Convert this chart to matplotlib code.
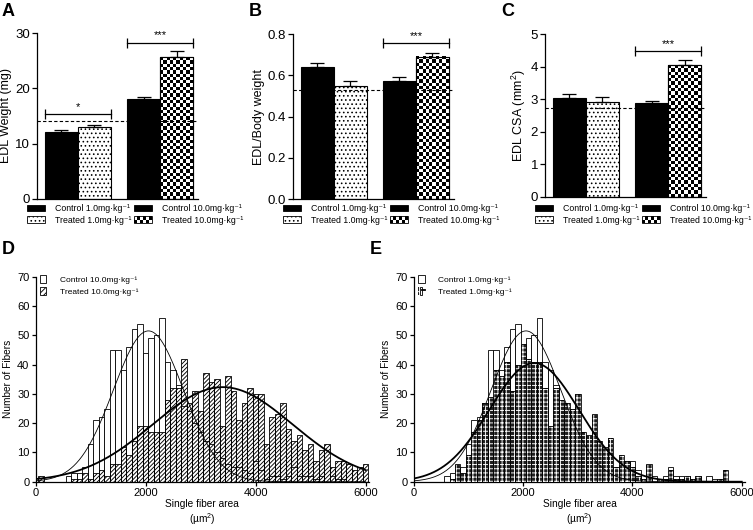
import numpy as np
import matplotlib
matplotlib.use('Agg')
import matplotlib.pyplot as plt
from matplotlib.patches import Patch, Rectangle
from matplotlib.lines import Line2D
from matplotlib.legend_handler import HandlerBase, HandlerTuple

plt.rcParams['font.family'] = ['Liberation Sans', 'DejaVu Sans']
plt.rcParams['mathtext.fontset'] = 'custom'
plt.rcParams['mathtext.rm'] = 'Liberation Sans'
plt.rcParams['mathtext.it'] = 'Liberation Sans:italic'
plt.rcParams['mathtext.bf'] = 'Liberation Sans:bold'
plt.rcParams['hatch.linewidth'] = 0.65
plt.rcParams['axes.linewidth'] = 0.9

# --- panels A-C: group means and SEM
group_labels = ['Control 1.0mg·kg⁻¹', 'Treated 1.0mg·kg⁻¹',
                'Control 10.0mg·kg⁻¹', 'Treated 10.0mg·kg⁻¹']
edl_weight = [12.05, 12.95, 18.0, 25.65]
edl_weight_sem = [0.4, 0.4, 0.5, 1.1]
edl_body = [0.643, 0.551, 0.575, 0.691]
edl_body_sem = [0.019, 0.024, 0.019, 0.02]
edl_csa = [3.03, 2.93, 2.87, 4.05]
edl_csa_sem = [0.13, 0.14, 0.09, 0.16]
reference_levels = [14.05, 0.53, 2.74]
# (first group, second group, height, stars)
sig_a = [(0, 1, 15.3, '*'), (2, 3, 28.3, '***')]
sig_b = [(2, 3, 0.756, '***')]
sig_c = [(2, 3, 4.49, '***')]

# --- panels D-E: fibre area histograms (bins of 100 um2, centred on bin value)
bin_centers = np.arange(100, 6100, 100)
control_10 = [0, 0, 0, 0, 0, 2, 3, 3, 5, 13,
              21, 22, 25, 45, 45, 38, 46, 52, 54, 44,
              49, 50, 56, 41, 38, 33, 26, 24, 20, 17,
              14, 13, 10, 8, 6, 5, 5, 4, 3, 7,
              4, 1, 2, 2, 1, 2, 5, 2, 2, 2,
              1, 2, 0, 2, 1, 1, 0, 0, 0, 0]
treated_10 = [2, 0, 0, 0, 0, 0, 1, 1, 3, 1,
              3, 4, 2, 6, 6, 12, 9, 14, 19, 19,
              17, 17, 17, 28, 32, 32, 42, 27, 31, 24,
              37, 34, 35, 19, 36, 31, 21, 27, 32, 30,
              30, 13, 22, 23, 27, 18, 14, 16, 11, 13,
              7, 11, 13, 5, 7, 7, 6, 4, 5, 6]
control_1 = [0, 0, 0, 0, 0, 2, 3, 3, 5, 13,
             21, 22, 25, 45, 45, 38, 46, 52, 54, 44,
             49, 50, 56, 41, 38, 33, 26, 24, 20, 17,
             14, 13, 10, 8, 6, 5, 5, 4, 3, 7,
             4, 1, 2, 2, 1, 2, 5, 2, 2, 2,
             1, 2, 0, 2, 1, 1, 0, 0, 0, 0]
treated_1 = [0, 0, 0, 0, 0, 0, 1, 6, 3, 9,
             17, 21, 27, 29, 38, 36, 41, 31, 40, 47,
             42, 41, 41, 32, 19, 32, 28, 27, 25, 30,
             17, 16, 23, 14, 12, 15, 5, 9, 7, 5,
             2, 1, 6, 0, 1, 1, 4, 1, 1, 2,
             1, 2, 0, 0, 0, 1, 4, 0, 0, 0]
# gaussian fits (peak, mean, sd)
fit_control = (51.5, 2050, 640)
fit_treated_10 = (32.3, 3400, 1270)
fit_treated_1 = (40.5, 2200, 820)

fig = plt.figure(figsize=(7.53, 5.30), dpi=100)
positions = [0, 1, 2.5, 3.5]


class CheckerHandler(HandlerBase):
    def create_artists(self, legend, orig_handle, xdescent, ydescent,
                       width, height, fontsize, trans):
        arts = []
        nx, ny = 6, 2
        cw, ch = width / nx, height / ny
        for i in range(nx):
            for j in range(ny):
                if (i + j) % 2 == 0:
                    arts.append(Rectangle((-xdescent + i * cw, -ydescent + j * ch), cw, ch,
                                          facecolor='black', edgecolor='none', transform=trans))
        arts.append(Rectangle((-xdescent, -ydescent), width, height, facecolor='none',
                              edgecolor='black', lw=0.6, transform=trans))
        return arts


def add_checker(ax, bar, cell_px=3.3):
    x0, y0 = bar.get_x(), bar.get_y()
    x1, y1 = x0 + bar.get_width(), y0 + bar.get_height()
    (px0, py0), (px1, py1) = ax.transData.transform([(x0, y0), (x1, y1)])
    nx = max(1, int(round((px1 - px0) / cell_px)))
    ny = max(1, int(round((py1 - py0) / cell_px)))
    board = np.indices((ny, nx)).sum(axis=0) % 2
    ax.imshow(board, cmap='gray', vmin=0, vmax=1, extent=(x0, x1, y0, y1),
              aspect='auto', interpolation='nearest', zorder=2)


def bar_panel(rect, values, sems, ref, ylim, yticks, yticklabels, ylabel, sigs, letter, letter_x):
    ax = fig.add_axes(rect)
    ax.set_xlim(-0.74, 4.15)
    ax.set_ylim(*ylim)
    bars = ax.bar(positions, values, width=1, color=['black', 'white', 'black', 'white'],
                  edgecolor='black', lw=0.8, zorder=2)
    bars[1].set_hatch('....')
    add_checker(ax, bars[3])
    ax.bar(positions[3], values[3], width=1, fill=False, edgecolor='black', lw=0.8, zorder=3)
    ax.set_xlim(-0.74, 4.15)
    ax.set_ylim(*ylim)
    ax.errorbar(positions, values, yerr=[np.zeros(len(sems)), sems], fmt='none',
                ecolor='black', elinewidth=0.9, capsize=5, capthick=0.9, zorder=3)
    ax.axhline(ref, color='black', lw=0.8, ls=(0, (3, 2)), zorder=4)
    for a, b, h, stars in sigs:
        xa, xb = positions[a] - 0.5, positions[b] + 0.5
        ax.plot([xa, xb], [h, h], color='black', lw=0.9, marker='|', markersize=7,
                mew=0.9, zorder=4, clip_on=False)
        ax.annotate(stars, ((xa + xb) / 2, h), xytext=(0, 1.5), textcoords='offset points',
                    ha='center', va='bottom', fontsize=8)
    ax.spines[['top', 'right']].set_visible(False)
    ax.set_xticks([])
    ax.set_yticks(yticks)
    ax.set_yticklabels(yticklabels)
    ax.tick_params(axis='y', labelsize=9.5, length=3.5, width=0.9, pad=1.5)
    ax.set_ylabel(ylabel, fontsize=9, labelpad=2)

    checker = Patch(facecolor='white', edgecolor='black')
    handles = [Patch(facecolor='black', edgecolor='black', lw=0.6),
               Patch(facecolor='white', edgecolor='black', hatch='....', lw=0.6),
               Patch(facecolor='black', edgecolor='black', lw=0.6),
               checker]
    ax.legend(handles, group_labels, handler_map={checker: CheckerHandler()},
              ncol=2, loc='upper left', bbox_to_anchor=(rect[0] - 10 / 753, 1 - 204 / 530),
              bbox_transform=fig.transFigure, frameon=False, fontsize=6.3,
              handlelength=2.1, handleheight=0.75, handletextpad=1.15,
              labelspacing=0.3, columnspacing=0.25, borderpad=0, borderaxespad=0)
    fig.text(letter_x, 1 - 3 / 530, letter, fontsize=13, fontweight='bold', va='top')
    return ax


bar_panel([37 / 753, 0.6251, 0.214, 0.3121], edl_weight, edl_weight_sem, reference_levels[0],
          (0, 30), [0, 10, 20, 30], ['0', '10', '20', '30'], 'EDL Weight (mg)', sig_a, 'A', 2 / 753)
bar_panel([292.7 / 753, 0.6245, 0.214, 0.3108], edl_body, edl_body_sem, reference_levels[1],
          (0, 0.8), [0, 0.2, 0.4, 0.6, 0.8], ['0.0', '0.2', '0.4', '0.6', '0.8'],
          'EDL/Body weight', sig_b, 'B', 249 / 753)
bar_panel([545 / 753, 0.6289, 0.214, 0.3064], edl_csa, edl_csa_sem, reference_levels[2],
          (0, 5), [0, 1, 2, 3, 4, 5], ['0', '1', '2', '3', '4', '5'],
          'EDL CSA (mm$^2$)', sig_c, 'C', 501 / 753)


def gauss(x, fit):
    peak, mu, sd = fit
    return peak * np.exp(-(x - mu) ** 2 / (2 * sd ** 2))


def hist_panel(rect, control, treated, fit_t, dark, labels, letter, letter_x):
    ax = fig.add_axes(rect)
    xs = np.linspace(0, 6000, 600)
    ax.bar(bin_centers, control, width=100, facecolor='white', edgecolor='black', lw=0.6, zorder=2)
    if dark:
        ax.plot(xs, gauss(xs, fit_control), color='black', lw=0.6, zorder=4)
        ax.bar(bin_centers, treated, width=100, facecolor='#1e1e1e', edgecolor='white',
               hatch='++++', lw=0, zorder=3)
        ax.bar(bin_centers, treated, width=100, fill=False, edgecolor='black', lw=0.6, zorder=3.1)
        t_handle = (Patch(facecolor='#1e1e1e', edgecolor='white', hatch='+++', lw=0),
                    Patch(facecolor='none', edgecolor='black', lw=0.6),
                    Line2D([], [], color='black', lw=1.3))
    else:
        ax.plot(xs, gauss(xs, fit_control), color='black', lw=0.6, zorder=2.5)
        ax.bar(bin_centers, treated, width=100, facecolor='none', edgecolor='black',
               hatch='////////', lw=0.6, zorder=3)
        t_handle = Patch(facecolor='white', edgecolor='black', hatch='//////', lw=0.6)
    ax.plot(xs, gauss(xs, fit_t), color='black', lw=1.3, zorder=4)
    ax.set_xlim(0, 6060)
    ax.set_ylim(0, 70)
    ax.spines[['top', 'right']].set_visible(False)
    ax.set_xticks([0, 2000, 4000, 6000])
    ax.set_yticks(range(0, 71, 10))
    ax.tick_params(labelsize=8, length=3, width=0.9, pad=1.5)
    ax.set_ylabel('Number of Fibers', fontsize=7.3, labelpad=3)
    ax.set_xlabel('Single fiber area\n(µm$^2$)', fontsize=7.3, labelpad=1, linespacing=1.15)
    c_handle = Patch(facecolor='white', edgecolor='black', lw=0.6)
    ax.legend([c_handle, t_handle], labels, handler_map={tuple: HandlerTuple(ndivide=None)},
              loc='upper left', bbox_to_anchor=(0.012, 1.01), frameon=False, fontsize=6.0,
              handlelength=0.8, handleheight=1.2, handletextpad=1.6, labelspacing=0.35,
              borderpad=0, borderaxespad=0)
    fig.text(letter_x, 1 - 241 / 530, letter, fontsize=13, fontweight='bold', va='top')
    return ax


hist_panel([35.7 / 753, 0.0911, 0.4426, 0.3868], control_10, treated_10, fit_treated_10, False,
           ['Control 10.0mg·kg⁻¹', 'Treated 10.0mg·kg⁻¹'], 'D', 2 / 753)
hist_panel([414 / 753, 0.0911, 0.4396, 0.3868], control_1, treated_1, fit_treated_1, True,
           ['Control 1.0mg·kg⁻¹', 'Treated 1.0mg·kg⁻¹'], 'E', 370 / 753)

fig.savefig('out.png', dpi=100)
